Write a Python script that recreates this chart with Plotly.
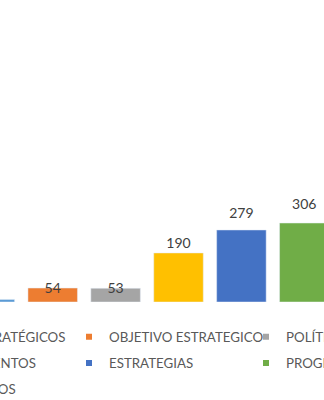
import plotly.graph_objects as go

series = ["EJES ESTRATÉGICOS", "OBJETIVO ESTRATEGICO", "POLÍTICAS",
          "LINEAMIENTOS", "ESTRATEGIAS", "PROGRAMAS", "PROYECTOS"]
values = [10, 54, 53, 190, 279, 306, 420]
colors = ["#5B9BD5", "#ED7D31", "#A5A5A5", "#FFC000", "#4472C4", "#70AD47", "#255E91"]
legend_cols = ["legend", "legend2", "legend3", "legend", "legend2", "legend3", "legend"]

FONT = "Lato"
W, H = 324, 400
plot_bottom = 302  # px from top
fig = go.Figure()

for s, v, c, lg in zip(series, values, colors, legend_cols):
    fig.add_trace(go.Bar(x=[s], y=[v], marker_color=c, name=s, showlegend=False,
                         hoverinfo="skip"))
    fig.add_trace(go.Scatter(x=[None], y=[None], mode="markers", name=s,
                             marker=dict(symbol="square", size=6, color=c),
                             legend=lg, legendgroup=s, showlegend=True))

fig.add_trace(go.Scatter(x=series, y=values, text=[str(v) for v in values],
                         mode="text", textposition="middle center", yaxis="y2",
                         textfont=dict(family=FONT, size=14, color="#404040"),
                         showlegend=False, hoverinfo="skip", cliponaxis=False))

def leg(xpx, top_px):
    return dict(x=xpx / W, xanchor="left", y=(plot_bottom - top_px) / plot_bottom,
                yanchor="top", orientation="v", tracegroupgap=6,
                font=dict(family=FONT, size=13.3, color="#595959"),
                bgcolor="rgba(0,0,0,0)", itemclick=False)

fig.update_layout(
    width=W, height=H,
    margin=dict(l=0, r=0, t=0, b=H - plot_bottom, autoexpand=False),
    paper_bgcolor="white", plot_bgcolor="white",
    barmode="relative", bargap=0.213,
    xaxis=dict(range=[0.162, 5.313], showticklabels=False, showgrid=False,
               zeroline=False, showline=False, type="category",
               categoryorder="array", categoryarray=series),
    yaxis=dict(range=[0, 1170], visible=False),
    yaxis2=dict(range=[15.4, 927.8], overlaying="y", visible=False),
    legend=leg(-100.6, 321.5),
    legend2=leg(69, 321.5),
    legend3=leg(246, 321.5),
)

fig.write_html("out.html")
